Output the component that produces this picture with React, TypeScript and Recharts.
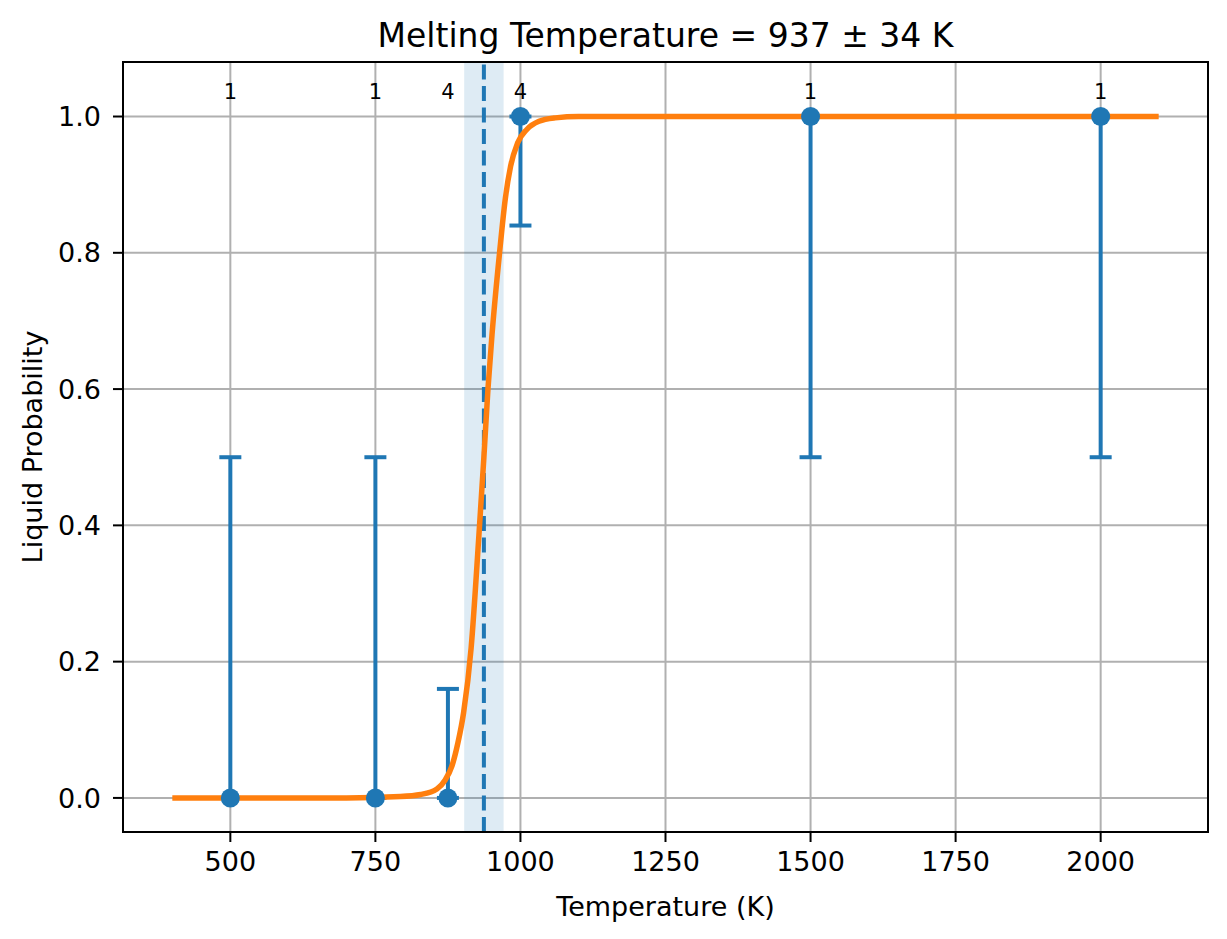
import React from 'react';
import {
  ComposedChart,
  Line,
  Scatter,
  ErrorBar,
  LabelList,
  XAxis,
  YAxis,
  CartesianGrid,
  ReferenceArea,
  ReferenceLine,
} from 'recharts';

// measured points
const temps = [500, 750, 875, 1000, 1500, 2000];
const probs = [0, 0, 0, 1, 1, 1];
const errLow = [0, 0, 0, 0.16, 0.5, 0.5];
const errHigh = [0.5, 0.5, 0.16, 0, 0, 0];
const counts = [1, 1, 4, 4, 1, 1];

// fitted curve
const curveT = [400, 700, 793, 828, 856, 870, 882, 892, 902, 915, 928, 937, 944, 951, 964, 974, 983, 995, 1011, 1032, 1060, 1100, 2100];
const curveP = [0, 0, 0.002, 0.005, 0.013, 0.026, 0.047, 0.08, 0.125, 0.22, 0.38, 0.5, 0.6, 0.68, 0.8, 0.88, 0.927, 0.961, 0.981, 0.993, 0.998, 1, 1];

const meltT = 937;
const meltErr = 34;

const xTicks = [500, 750, 1000, 1250, 1500, 1750, 2000];
const yTicks = [0, 0.2, 0.4, 0.6, 0.8, 1.0];

const pointData = temps.map((t, i) => ({ x: t, y: probs[i], err: [errLow[i], errHigh[i]] }));
const curveData = curveT.map((t, i) => ({ x: t, y: curveP[i] }));
const countData = temps.map((t, i) => ({ x: t, y: 1.037, count: counts[i] }));

const BLUE = '#1f77b4';
const ORANGE = '#ff7f0e';
const FONT = '"DejaVu Sans", sans-serif';

const App: React.FC = () => {
  return (
    <div style={{ position: 'relative', width: 1219, height: 926, fontFamily: FONT }}>
      <div
        style={{
          position: 'absolute',
          left: 115,
          top: 11,
          width: 1085,
          textAlign: 'center',
          fontSize: 33,
          lineHeight: '33px',
          color: '#000',
          zIndex: 2,
        }}
      >
        Melting Temperature = {meltT} ± {meltErr} K
      </div>
      <ComposedChart width={1219} height={926} margin={{ top: 54, right: 19, bottom: 2, left: 15 }}>
        <CartesianGrid stroke="#b0b0b0" strokeWidth={2} />
        <XAxis
          dataKey="x"
          type="number"
          domain={[315, 2185]}
          allowDataOverflow
          ticks={xTicks}
          height={100}
          tickSize={10}
          tickMargin={10}
          tick={{ fill: '#000', fontSize: 27, fontFamily: FONT }}
          tickLine={{ stroke: '#000', strokeWidth: 2 }}
          axisLine={{ stroke: '#000', strokeWidth: 2 }}
          label={{ value: 'Temperature (K)', position: 'insideBottom', offset: 16, fill: '#000', fontSize: 27, fontFamily: FONT }}
        />
        <YAxis
          dataKey="y"
          type="number"
          domain={[-0.05, 1.08]}
          allowDataOverflow
          ticks={yTicks}
          width={100}
          tickSize={10}
          tickMargin={12}
          tickFormatter={(v: number) => v.toFixed(1)}
          tick={{ fill: '#000', fontSize: 27, fontFamily: FONT }}
          tickLine={{ stroke: '#000', strokeWidth: 2 }}
          axisLine={{ stroke: '#000', strokeWidth: 2 }}
          label={{
            value: 'Liquid Probability',
            angle: -90,
            position: 'insideLeft',
            offset: 9,
            fill: '#000',
            fontSize: 27,
            fontFamily: FONT,
            style: { textAnchor: 'middle' },
          }}
        />
        <ReferenceArea x1={meltT - meltErr} x2={meltT + meltErr} fill={BLUE} fillOpacity={0.15} stroke="none" />
        <ReferenceLine x={meltT} stroke={BLUE} strokeWidth={4} strokeDasharray="15 6.5" />
        <Scatter data={pointData} dataKey="y" isAnimationActive={false} shape={() => <g />}>
          <ErrorBar dataKey="err" direction="y" width={11} stroke={BLUE} strokeWidth={4} />
        </Scatter>
        <Line
          data={curveData}
          dataKey="y"
          type="monotone"
          stroke={ORANGE}
          strokeWidth={5.5}
          dot={false}
          activeDot={false}
          isAnimationActive={false}
        />
        <Scatter
          data={pointData}
          dataKey="y"
          isAnimationActive={false}
          shape={(p: any) => <circle cx={p.cx} cy={p.cy} r={9.5} fill={BLUE} />}
        />
        <Scatter data={countData} dataKey="y" isAnimationActive={false} shape={() => <g />}>
          <LabelList
            dataKey="count"
            position="center"
            fill="#000"
            fontSize={21}
            fontFamily={FONT}
            style={{ fontSize: 21 }}
          />
        </Scatter>
        <ReferenceArea
          x1={315}
          x2={2185}
          y1={-0.05}
          y2={1.08}
          fill="none"
          stroke="#000"
          strokeWidth={2}
          ifOverflow="visible"
        />
      </ComposedChart>
    </div>
  );
};

export default App;
